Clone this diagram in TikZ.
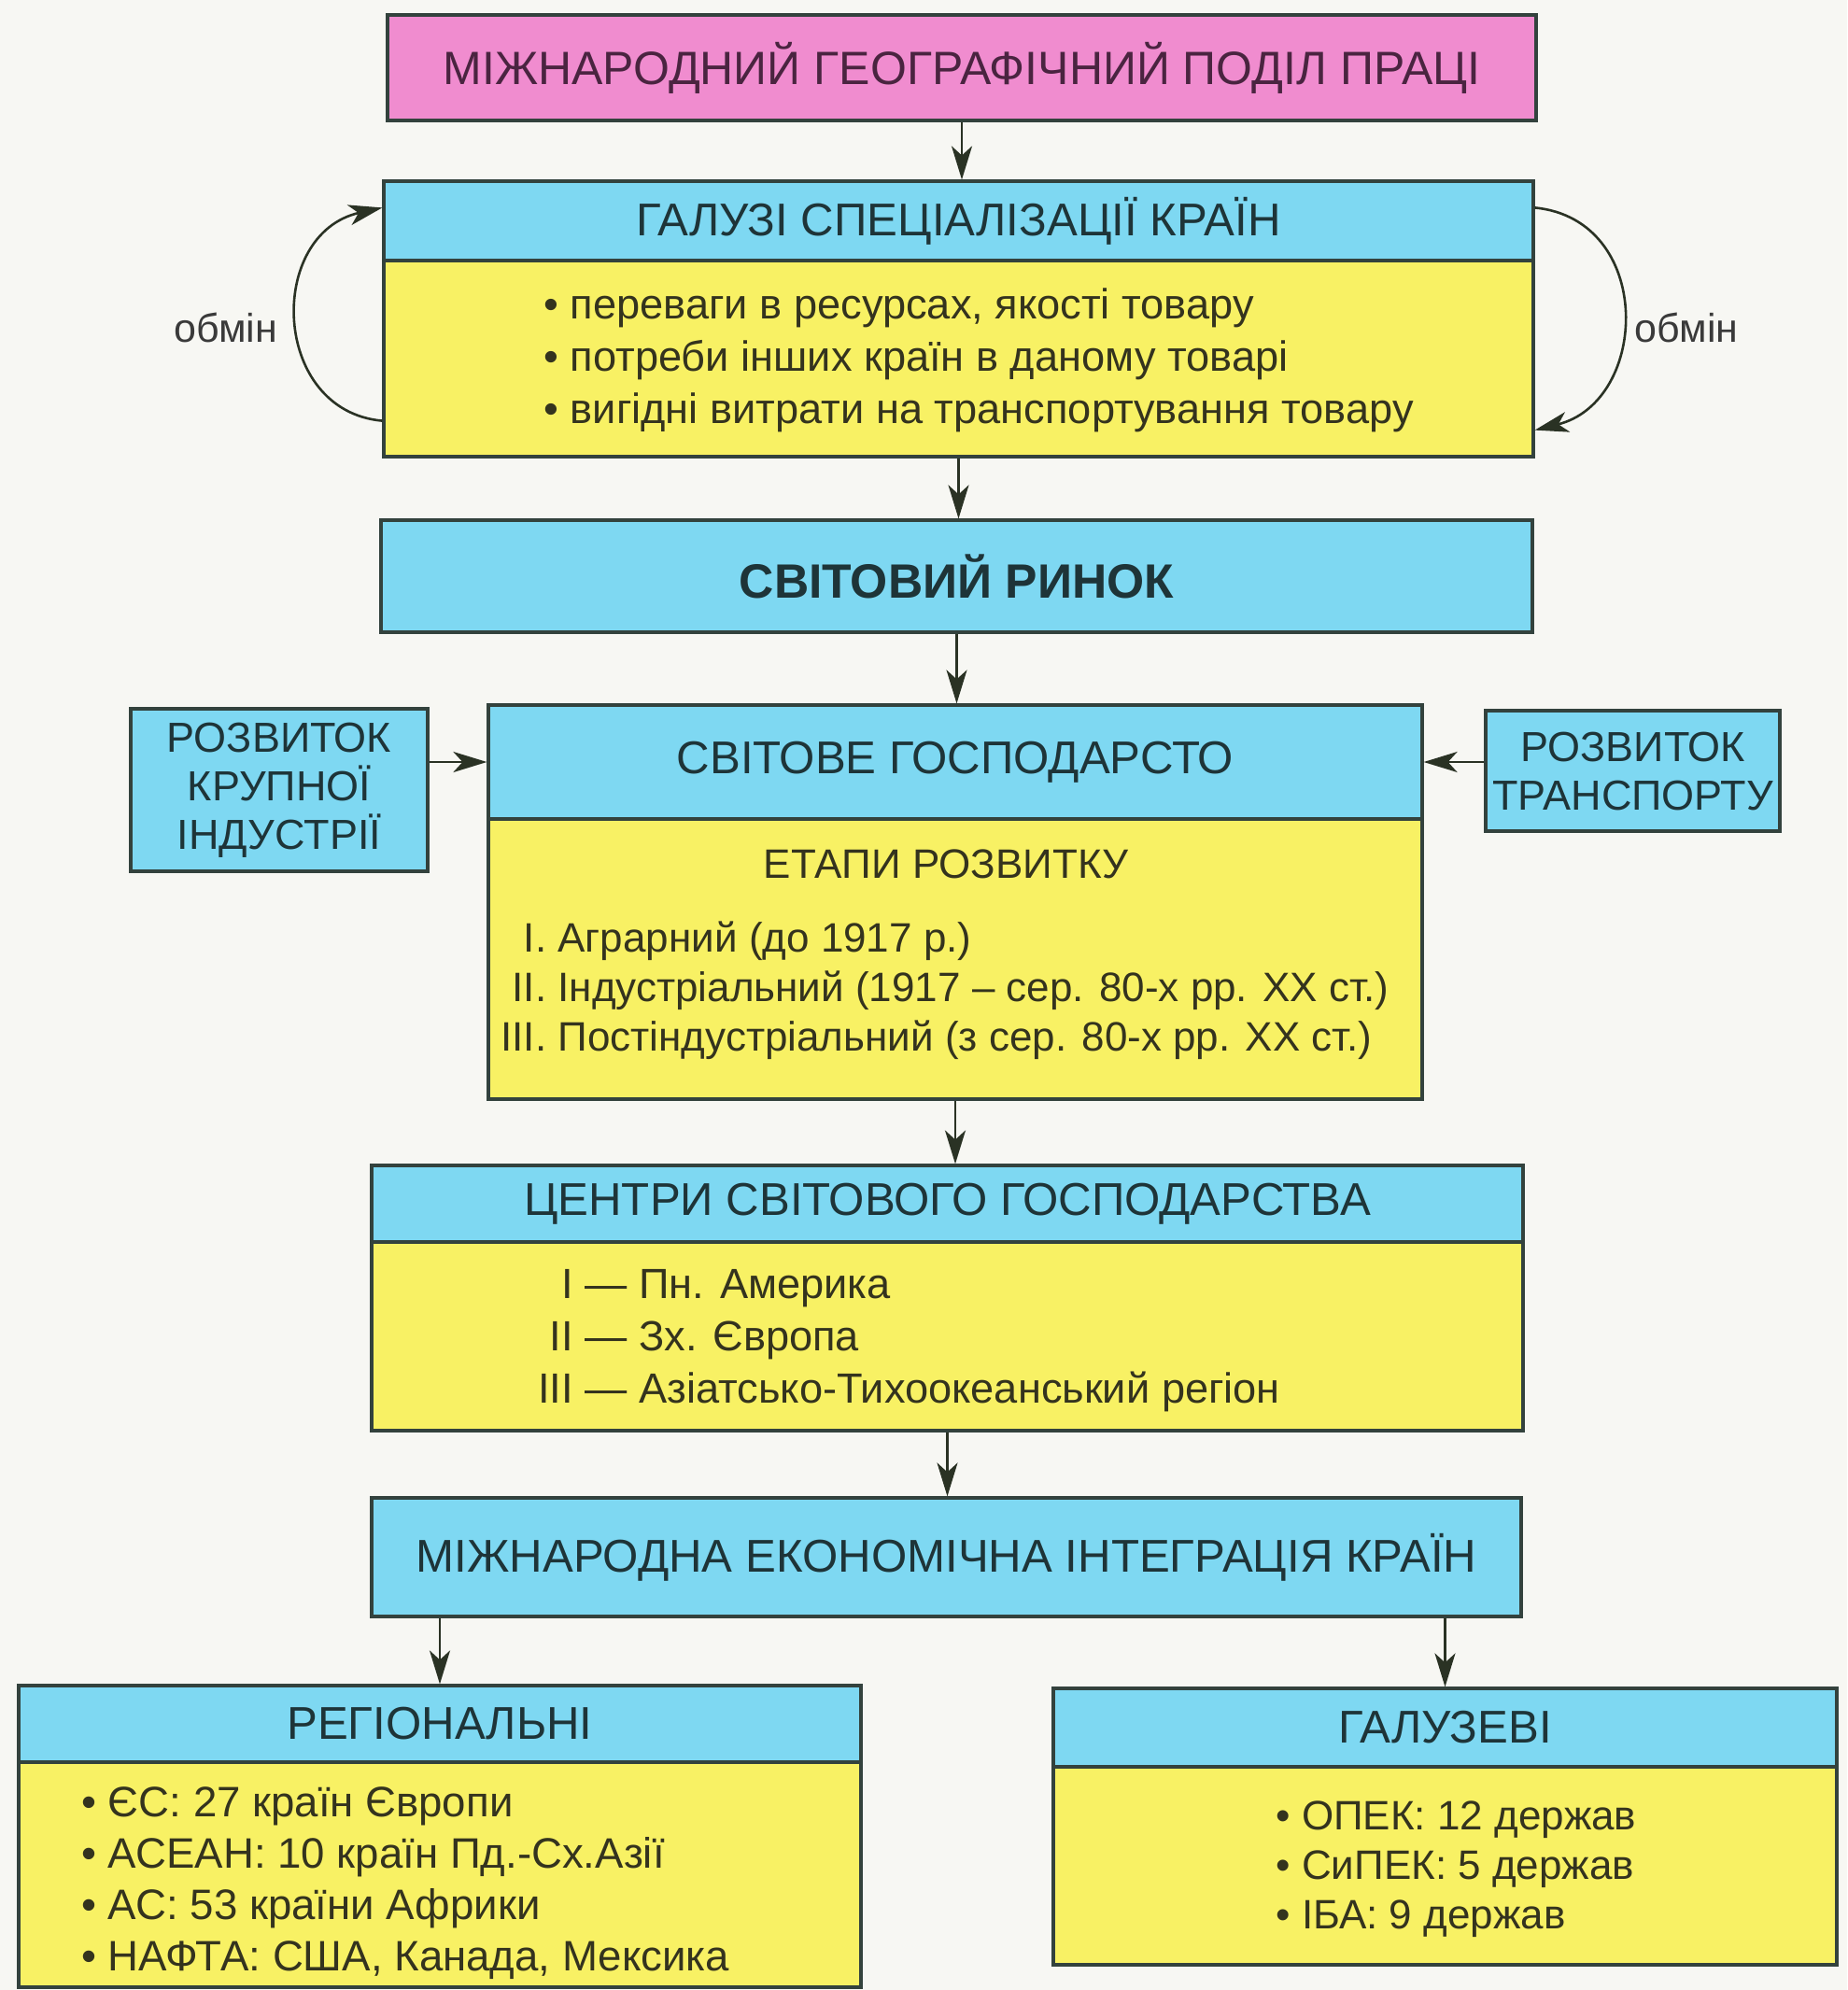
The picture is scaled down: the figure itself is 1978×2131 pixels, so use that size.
\documentclass[tikz,border=0pt]{standalone}
\usepackage{fontspec}
\setmainfont{Liberation Sans}
\usetikzlibrary{arrows.meta,fit,calc}
\definecolor{bgc}{HTML}{F7F7F3}
\definecolor{pinkc}{HTML}{F08CCF}
\definecolor{cyanc}{HTML}{7ED8F2}
\definecolor{yelc}{HTML}{F8F164}
\definecolor{linec}{HTML}{33423D}
\definecolor{arrc}{HTML}{2A3224}
\definecolor{ptxt}{HTML}{4A2440}
\definecolor{ctxt}{HTML}{1E3438}
\definecolor{ytxt}{HTML}{34331E}
\definecolor{gtxt}{HTML}{3A3A3A}
\begin{document}
\begin{tikzpicture}[x=0.5pt,y=-0.5pt,
  box/.style={draw=linec,line width=1.6pt,rectangle,inner sep=0pt},
  pinkbox/.style={box,fill=pinkc},
  hdr/.style={box,fill=cyanc},
  bodybox/.style={box,fill=yelc},
  arr/.style={draw=arrc,line width=1.3pt,-{Stealth[length=18pt,width=11pt,inset=5pt]}},
  htxt/.style={inner sep=0pt,text=ctxt,font=\fontsize{24.6}{29}\selectfont,align=center},
  stxt/.style={inner sep=0pt,text=ctxt,font=\fontsize{22.5}{26}\selectfont,align=center},
  txt/.style={inner sep=0pt,text=ytxt,font=\fontsize{22.6}{28}\selectfont,align=left},
  lbl/.style={inner sep=0pt,text=gtxt,font=\fontsize{21.5}{24}\selectfont},
]
\fill[bgc] (0,0) rectangle (1978,2131);
\useasboundingbox (0,0) rectangle (1978,2131);

% top
\node[pinkbox,fit={(415,16) (1645,129)}] (t1) {};
\node[htxt,text=ptxt,font=\fontsize{25}{29}\selectfont] (t1t) at (t1.center) {МІЖНАРОДНИЙ ГЕОГРАФІЧНИЙ ПОДІЛ ПРАЦІ};

% specialisation
\node[hdr,fit={(411,194) (1642,279)}] (h2) {};
\node[htxt] (h2t) at (h2.center) {ГАЛУЗІ СПЕЦІАЛІЗАЦІЇ КРАЇН};
\node[bodybox,fit={(411,279) (1642,489)}] (b2) {};
\node[txt,anchor=west] (b2t) at (582,386) {• переваги в ресурсах, якості товару\\• потреби інших країн в даному товарі\\• вигідні витрати на транспортування товару};

% world market
\node[hdr,fit={(408,557) (1641,677)}] (h3) {};
\node[htxt,font=\bfseries\fontsize{25.8}{30}\selectfont] (h3t) at (h3.center) {СВІТОВИЙ РИНОК};

% world economy
\node[hdr,fit={(523,755) (1523,877)}] (h4) {};
\node[htxt] (h4t) at (h4.center) {СВІТОВЕ ГОСПОДАРСТО};
\node[bodybox,fit={(523,877) (1523,1177)}] (b4) {};
\node[txt,font=\fontsize{22}{27}\selectfont] (b4a) at (1013,925) {ЕТАПИ РОЗВИТКУ};
\node[txt,anchor=west,font=\fontsize{22}{26.5}\selectfont] (b4t) at (536,1062) {\begin{tabular}{@{}r@{\ }l@{}}I. & Аграрний (до 1917 р.)\\II. & Індустріальний (1917 – сер. 80-х рр. XX ст.)\\III. & Постіндустріальний (з сер. 80-х рр. XX ст.)\end{tabular}};

% side boxes
\node[hdr,fit={(140,759) (458,933)}] (s1) {};
\node[stxt] (s1t) at (s1.center) {РОЗВИТОК\\КРУПНОЇ\\ІНДУСТРІЇ};
\node[hdr,fit={(1591,761) (1906,890)}] (s2) {};
\node[stxt] (s2t) at (s2.center) {РОЗВИТОК\\ТРАНСПОРТУ};

% centres
\node[hdr,fit={(398,1248) (1631,1330)}] (h5) {};
\node[htxt] (h5t) at (h5.center) {ЦЕНТРИ СВІТОВОГО ГОСПОДАРСТВА};
\node[bodybox,fit={(398,1330) (1631,1532)}] (b5) {};
\node[txt,anchor=west] (b5t) at (576,1435) {\begin{tabular}{@{}r@{ — }l@{}}I & Пн. Америка\\II & Зх. Європа\\III & Азіатсько-Тихоокеанський регіон\end{tabular}};

% integration
\node[hdr,fit={(398,1604) (1629,1731)}] (h6) {};
\node[htxt] (h6t) at (h6.center) {МІЖНАРОДНА ЕКОНОМІЧНА ІНТЕГРАЦІЯ КРАЇН};

% regional
\node[hdr,fit={(20,1805) (922,1887)}] (h7) {};
\node[htxt] (h7t) at (h7.center) {РЕГІОНАЛЬНІ};
\node[bodybox,fit={(20,1887) (922,2128)}] (b7) {};
\node[txt,anchor=west,font=\fontsize{22.8}{27.5}\selectfont] (b7t) at (87,2017) {• ЄС: 27 країн Європи\\• АСЕАН: 10 країн Пд.-Сх.Азії\\• АС: 53 країни Африки\\• НАФТА: США, Канада, Мексика};

% branch
\node[hdr,fit={(1128,1808) (1967,1892)}] (h8) {};
\node[htxt] (h8t) at (h8.center) {ГАЛУЗЕВІ};
\node[bodybox,fit={(1128,1892) (1967,2104)}] (b8) {};
\node[txt,anchor=west,font=\fontsize{22}{26.5}\selectfont] (b8t) at (1366,2002) {• ОПЕК: 12 держав\\• СиПЕК: 5 держав\\• ІБА: 9 держав};

% exchange labels
\node[lbl] (o1) at (242,351) {обмін};
\node[lbl] (o2) at (1806,351) {обмін};

% arrows
\draw[arr] (t1.south) -- (t1.south |- h2.north);
\draw[arr] (b2.south) -- (b2.south |- h3.north);
\draw[arr] (h3.south) -- (h3.south |- h4.north);
\draw[arr] (b4.south) -- (b4.south |- h5.north);
\draw[arr] (b5.south) -- (b5.south |- h6.north);
\draw[arr] (h6.south -| h7.north) -- (h7.north);
\draw[arr] (h6.south -| h8.north) -- (h8.north);
\draw[arr] (h4.west -| s1.east) -- (h4.west);
\draw[arr] (h4.east -| s2.west) -- (h4.east);

\coordinate (la1) at ($(b2.south west)+(0,-40)$);
\coordinate (la2) at ($(h2.north west)+(0,30)$);
\coordinate (ra1) at ($(h2.north east)+(0,30)$);
\coordinate (ra2) at ($(b2.south east)+(0,-30)$);
\draw[arr] (la1) .. controls (290,440) and (285,250) .. (la2);
\draw[arr] (ra1) .. controls (1772,235) and (1767,430) .. (ra2);
\end{tikzpicture}
\end{document}
